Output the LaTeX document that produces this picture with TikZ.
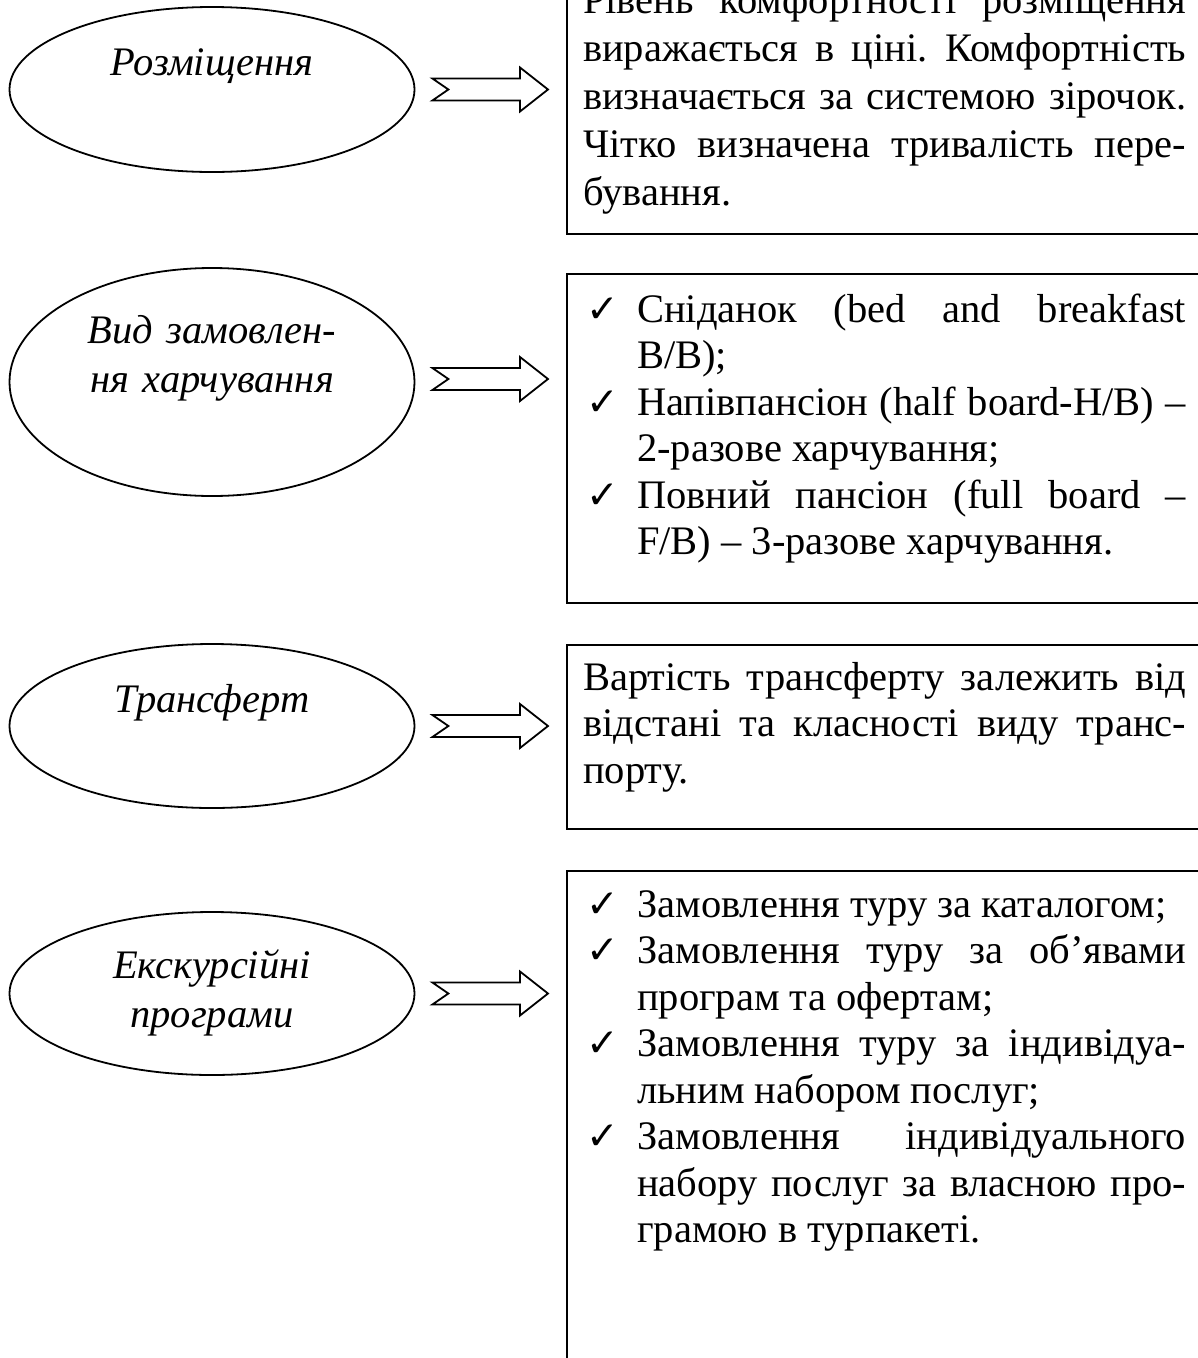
\documentclass[tikz,border=0pt]{standalone}
\usepackage{fontspec}
\setmainfont{Liberation Serif}
\newfontfamily\tickfont{DejaVu Sans}
\usetikzlibrary{shapes.geometric,calc}

% stretchable interword spaces inside the line boxes
\newcommand\looseglue{\spaceskip=0pt\xspaceskip=0pt\frenchspacing}
% text lines set one by one: a justified full line, a ragged last line
\newcommand\fullline[1]{\hbox to 603pt{\looseglue#1}}
\newcommand\lastline[1]{\hbox to 603pt{\looseglue#1\hfil}}
% list lines: first line carries the check mark, later lines are indented
\newcommand\tickmark{\hbox to 54pt{\hskip 3pt{\tickfont\fontsize{39}{39}\selectfont ✓}\hss}}
\newcommand\tickfull[1]{\hbox to 603pt{\looseglue\tickmark#1}}
\newcommand\ticklast[1]{\hbox to 603pt{\looseglue\tickmark#1\hfil}}
\newcommand\hangfull[1]{\hbox to 603pt{\looseglue\hskip 54pt#1}}
\newcommand\hanglast[1]{\hbox to 603pt{\looseglue\hskip 54pt#1\hfil}}

\tikzset{
  oval/.style={draw, line width=1.8pt, ellipse, inner sep=0pt, minimum width=405pt},
  ovaltext/.style={inner sep=0pt, text width=380pt, align=center,
    font=\itshape\fontsize{40.5}{49}\selectfont},
  infobox/.style={draw, line width=2pt, rectangle, inner sep=0pt, anchor=north west,
    minimum width=650pt},
  boxtext/.style={inner sep=0pt, anchor=base west, text width=603pt,
    font=\fontsize{40.5}{46.5}\selectfont},
  fatarrow/.style={draw, line width=1.8pt, fill=white, line join=miter}
}

% hollow block arrow with notched tail, from an oval to its box
\newcommand\blockarrow[3]{%
  \draw[fatarrow] let \p1=(#1.east), \p2=(#2.west) in
    (\x1+17pt,\y1+#3+11pt) -- (\x1+33pt,\y1+#3) -- (\x1+17pt,\y1+#3-11pt)
    -- (\x2-46pt,\y1+#3-11pt) -- (\x2-46pt,\y1+#3-22pt) -- (\x2-18pt,\y1+#3)
    -- (\x2-46pt,\y1+#3+22pt) -- (\x2-46pt,\y1+#3+11pt) -- cycle;}

\begin{document}
\begin{tikzpicture}[x=1pt,y=-1pt]
\useasboundingbox (0,0) rectangle (1198,1358);
\clip (0,0) rectangle (1198,1358);

% ovals on the left
\node[oval, minimum height=165pt] (o1) at (212,89.5) {};
\node[oval, minimum height=228pt] (o2) at (212,382) {};
\node[oval, minimum height=164pt] (o3) at (212,726) {};
\node[oval, minimum height=163pt] (o4) at (212,993.5) {};

\node[ovaltext, anchor=base] (o1t) at (212,75) {Розміщення};
\node[ovaltext, anchor=base] (o2t) at (212,343) {Вид замовлен-\\ня харчування};
\node[ovaltext, anchor=base] (o3t) at (212,712) {Трансферт};
\node[ovaltext, anchor=base] (o4t) at (212,978) {Екскурсійні\\програми};

% boxes on the right
\node[infobox, minimum height=273pt] (b1) at (566,-40) {};
\node[infobox, minimum height=329pt] (b2) at (566,273) {};
\node[infobox, minimum height=184pt] (b3) at (566,644) {};
\node[infobox, minimum height=560pt] (b4) at (566,870) {};

\node[boxtext, font=\fontsize{40.5}{48}\selectfont] (b1t) at (583,13) {%
  \fullline{Рівень комфортності розміщення}
  \fullline{виражається в ціні. Комфортність}
  \fullline{визначається за системою зірочок.}
  \fullline{Чітко визначена тривалість пере-}
  \lastline{бування.}};

\node[boxtext] (b2t) at (583,322) {%
  \tickfull{Сніданок (bed and breakfast}
  \hanglast{B/B);}
  \tickfull{Напівпансіон (half board-H/B) –}
  \hanglast{2-разове харчування;}
  \tickfull{Повний пансіон (full board –}
  \hanglast{F/B) – 3-разове харчування.}};

\node[boxtext] (b3t) at (583,690) {%
  \fullline{Вартість трансферту залежить від}
  \fullline{відстані та класності виду транс-}
  \lastline{порту.}};

\node[boxtext] (b4t) at (583,917) {%
  \ticklast{Замовлення туру за каталогом;}
  \tickfull{Замовлення туру за об’явами}
  \hanglast{програм та офертам;}
  \tickfull{Замовлення туру за індивідуа-}
  \hanglast{льним набором послуг;}
  \tickfull{Замовлення індивідуального}
  \hangfull{набору послуг за власною про-}
  \hanglast{грамою в турпакеті.}};

% arrows
\blockarrow{o1}{b1}{0pt}
\blockarrow{o2}{b2}{3pt}
\blockarrow{o3}{b3}{0pt}
\blockarrow{o4}{b4}{0pt}
\end{tikzpicture}
\end{document}
